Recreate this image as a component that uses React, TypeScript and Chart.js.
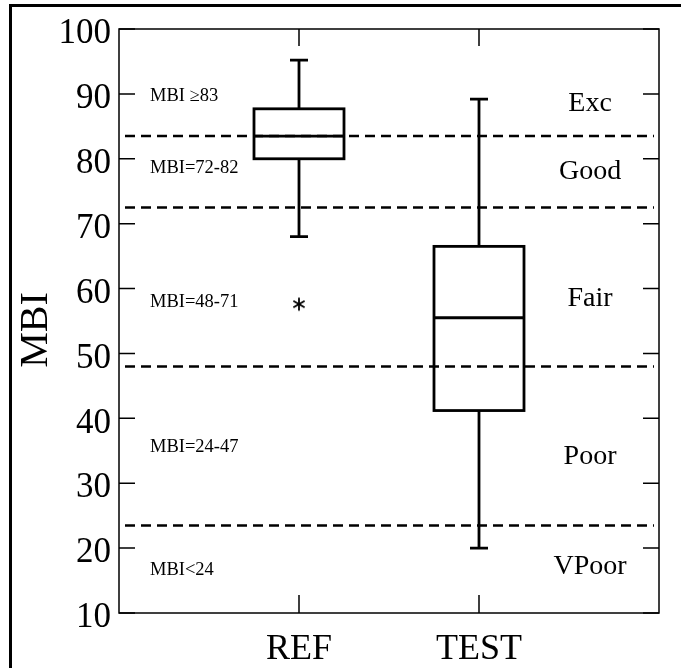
import React, { useEffect, useRef } from 'react';
import { Chart, registerables } from 'chart.js';

Chart.register(...registerables);

// ---- data ----
const categories = ['REF', 'TEST'];
const categoryX = [1, 2];
const whiskerLow = [68, 20];
const q1 = [80, 41.2];
const median = [83.5, 55.5];
const q3 = [87.7, 66.5];
const whiskerHigh = [95.2, 89.2];
const outlierCategory = [1];
const outlierValues = [57.6];
const thresholds = [83.5, 72.5, 48, 23.5];
const yTickValues = [10, 20, 30, 40, 50, 60, 70, 80, 90, 100];
const leftBandLabels = ['MBI \u226583', 'MBI=72-82', 'MBI=48-71', 'MBI=24-47', 'MBI<24'];
const leftBandY = [89.7, 78.5, 57.9, 35.5, 16.6];
const rightBandLabels = ['Exc', 'Good', 'Fair', 'Poor', 'VPoor'];
const rightBandY = [88.5, 78.0, 58.5, 34.1, 17.2];

const SERIF = '"Liberation Serif", "Times New Roman", serif';

function makeAsterisk(): HTMLCanvasElement {
  const c = document.createElement('canvas');
  c.width = 16;
  c.height = 16;
  const g = c.getContext('2d')!;
  g.strokeStyle = '#000';
  g.lineWidth = 1.8;
  g.lineCap = 'butt';
  const r = 6.5;
  [90, 30, 150].forEach((deg) => {
    const a = (deg * Math.PI) / 180;
    g.beginPath();
    g.moveTo(8 - r * Math.cos(a), 8 - r * Math.sin(a));
    g.lineTo(8 + r * Math.cos(a), 8 + r * Math.sin(a));
    g.stroke();
  });
  return c;
}

const boxPlugin = {
  id: 'boxPlugin',
  beforeDraw(chart: any) {
    const ctx = chart.ctx;
    ctx.save();
    ctx.fillStyle = '#fff';
    ctx.fillRect(0, 0, chart.width, chart.height);
    ctx.fillStyle = '#000';
    ctx.fillRect(9, 4, 3, chart.height);
    ctx.fillRect(9, 4, chart.width, 3);
    ctx.restore();
  },
  afterDatasetsDraw(chart: any) {
    const ctx = chart.ctx;
    const xs = chart.scales.x;
    const ys = chart.scales.y;
    const { left, right, top, bottom } = chart.chartArea;
    ctx.save();

    // threshold dashed lines
    ctx.strokeStyle = '#000';
    ctx.lineWidth = 2.5;
    ctx.setLineDash([10, 6]);
    thresholds.forEach((t) => {
      const py = ys.getPixelForValue(t);
      ctx.beginPath();
      ctx.moveTo(left + 6, py);
      ctx.lineTo(right - 5, py);
      ctx.stroke();
    });
    ctx.setLineDash([]);

    // boxes
    ctx.lineWidth = 2.8;
    categoryX.forEach((c, i) => {
      const xl = xs.getPixelForValue(c - 0.25);
      const xr = xs.getPixelForValue(c + 0.25);
      const xc = xs.getPixelForValue(c);
      const cl = xs.getPixelForValue(c - 0.05);
      const cr = xs.getPixelForValue(c + 0.05);
      const yq1 = ys.getPixelForValue(q1[i]);
      const yq3 = ys.getPixelForValue(q3[i]);
      const ym = ys.getPixelForValue(median[i]);
      const yl = ys.getPixelForValue(whiskerLow[i]);
      const yh = ys.getPixelForValue(whiskerHigh[i]);
      ctx.strokeRect(xl, yq3, xr - xl, yq1 - yq3);
      ctx.beginPath();
      ctx.moveTo(xl, ym);
      ctx.lineTo(xr, ym);
      ctx.moveTo(xc, yq3);
      ctx.lineTo(xc, yh);
      ctx.moveTo(cl, yh);
      ctx.lineTo(cr, yh);
      ctx.moveTo(xc, yq1);
      ctx.lineTo(xc, yl);
      ctx.moveTo(cl, yl);
      ctx.lineTo(cr, yl);
      ctx.stroke();
    });

    // frame and inward ticks
    ctx.lineWidth = 1.5;
    ctx.strokeRect(left, top, right - left, bottom - top);
    ctx.beginPath();
    yTickValues.forEach((v) => {
      const py = ys.getPixelForValue(v);
      ctx.moveTo(left, py);
      ctx.lineTo(left + 16, py);
      ctx.moveTo(right - 16, py);
      ctx.lineTo(right, py);
    });
    categoryX.forEach((c) => {
      const px = xs.getPixelForValue(c);
      ctx.moveTo(px, bottom);
      ctx.lineTo(px, bottom - 18);
      ctx.moveTo(px, top);
      ctx.lineTo(px, top + 17);
    });
    ctx.stroke();

    // band labels
    ctx.fillStyle = '#000';
    ctx.textBaseline = 'middle';
    ctx.textAlign = 'left';
    ctx.font = `18.5px ${SERIF}`;
    leftBandLabels.forEach((t, i) => {
      ctx.fillText(t, xs.getPixelForValue(0.172), ys.getPixelForValue(leftBandY[i]));
    });
    ctx.textAlign = 'center';
    ctx.font = `28px ${SERIF}`;
    rightBandLabels.forEach((t, i) => {
      ctx.fillText(t, xs.getPixelForValue(2.617), ys.getPixelForValue(rightBandY[i]));
    });

    // y title
    ctx.translate(36, 330);
    ctx.rotate(-Math.PI / 2);
    ctx.font = `40px ${SERIF}`;
    ctx.textAlign = 'center';
    ctx.textBaseline = 'middle';
    ctx.fillText('MBI', 0, 0);
    ctx.restore();
  },
};

export default function App() {
  const ref = useRef<HTMLCanvasElement | null>(null);
  useEffect(() => {
    if (!ref.current) return;
    const star = makeAsterisk();
    const chart = new Chart(ref.current, {
      type: 'scatter',
      data: {
        datasets: [
          {
            data: outlierValues.map((v, i) => ({ x: outlierCategory[i], y: v })),
            pointStyle: star as any,
            pointRadius: 8,
            borderColor: '#000',
            backgroundColor: '#000',
          },
        ],
      },
      options: {
        responsive: false,
        animation: false,
        events: [],
        layout: { padding: { top: 27, right: 22, left: 0, bottom: 0 } },
        plugins: { legend: { display: false }, tooltip: { enabled: false } },
        scales: {
          x: {
            type: 'linear',
            min: 0,
            max: 3,
            grid: { display: false, drawTicks: false },
            border: { display: false },
            afterBuildTicks: (s: any) => {
              s.ticks = categoryX.map((v) => ({ value: v }));
            },
            afterFit: (s: any) => {
              s.height = 55;
            },
            ticks: {
              autoSkip: false,
              maxRotation: 0,
              minRotation: 0,
              padding: 15,
              color: '#000',
              font: { family: SERIF, size: 36 },
              callback: (v: any) => {
                const i = categoryX.indexOf(Number(v));
                return i >= 0 ? categories[i] : '';
              },
            },
          },
          y: {
            type: 'linear',
            min: 10,
            max: 100,
            grid: { display: false, drawTicks: false },
            border: { display: false },
            afterBuildTicks: (s: any) => {
              s.ticks = yTickValues.map((v) => ({ value: v }));
            },
            afterFit: (s: any) => {
              s.width = 119;
            },
            ticks: {
              padding: 8,
              labelOffset: 5,
              color: '#000',
              font: { family: SERIF, size: 35 },
            },
          },
        },
      },
      plugins: [boxPlugin],
    });
    return () => chart.destroy();
  }, []);
  return (
    <div style={{ position: 'absolute', left: 0, top: 0, width: 681, height: 668, background: '#fff', overflow: 'hidden' }}>
      <canvas ref={ref} width={681} height={668} style={{ display: 'block' }} />
    </div>
  );
}
